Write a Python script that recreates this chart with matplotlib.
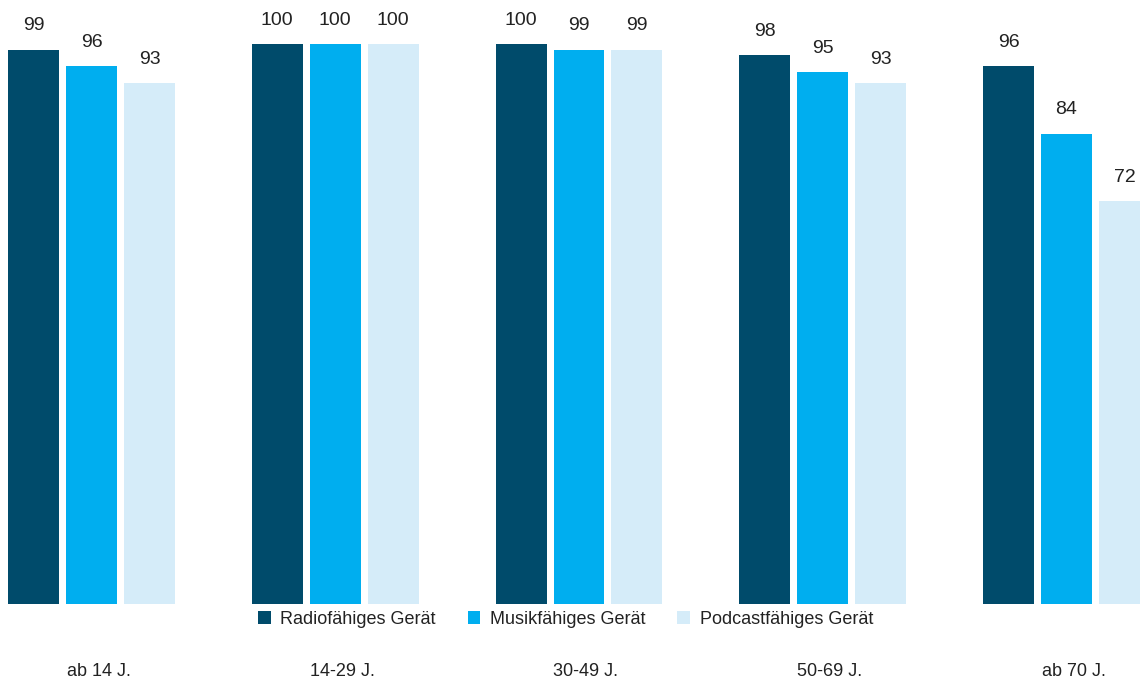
import matplotlib
matplotlib.use("Agg")
import matplotlib.pyplot as plt
from matplotlib.patches import Patch
import numpy as np

groups = ["ab 14 J.", "14-29 J.", "30-49 J.", "50-69 J.", "ab 70 J."]
series = ["Radiofähiges Gerät", "Musikfähiges Gerät", "Podcastfähiges Gerät"]
radio = [99, 100, 100, 98, 96]
musik = [96, 100, 99, 95, 84]
podcast = [93, 100, 99, 93, 72]
colors = ["#004b6b", "#00aeef", "#d5ecf9"]

plt.rcParams["font.family"] = ["Liberation Sans Narrow", "Liberation Sans", "DejaVu Sans"]

W, H = 1140, 679
fig = plt.figure(figsize=(W / 100, H / 100), dpi=100)
ax = fig.add_axes([0, 1 - 604 / H, 1, 604 / H])

x = np.arange(len(groups))
width = 0.209
step = 0.2377
values = [radio, musik, podcast]
for i, (vals, col, name) in enumerate(zip(values, colors, series)):
    xs = x + (i - 1) * step
    bars = ax.bar(xs, vals, width=width, color=col, label=name)
    for b, v in zip(bars, vals):
        ax.annotate(f"{v}", (b.get_x() + b.get_width() / 2, v),
                    xytext=(0, 11), textcoords="offset points",
                    ha="center", va="bottom", fontsize=14, color="#222222")

ax.set_xlim(-91.5 / 243.75, (W - 91.5) / 243.75)
ax.set_ylim(0, 604 / 5.6)
for s in ax.spines.values():
    s.set_visible(False)
ax.set_yticks([])
ax.set_xticks([])

# group labels below the legend row
for xi, g in zip(x, groups):
    ax.annotate(g, (xi, 0), xycoords=("data", "axes fraction"),
                xytext=(5, -67 * 0.72), textcoords="offset points",
                ha="center", va="center", fontsize=13, color="#222222")

handles = [Patch(facecolor=c, edgecolor="none") for c in colors]
fig.legend(handles, series, loc="center",
           bbox_to_anchor=(565.5 / W, 1 - 619 / H), ncol=3, frameon=False,
           fontsize=13, handlelength=0.7, handleheight=0.7,
           handletextpad=0.55, columnspacing=1.75, labelcolor="#222222")

fig.savefig("out.png", dpi=100)
